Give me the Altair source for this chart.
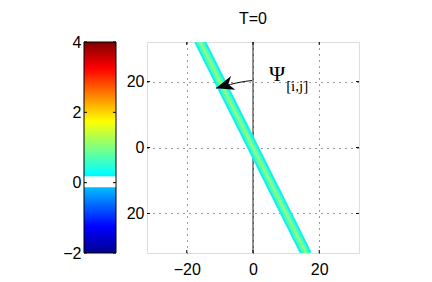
import altair as alt
import pandas as pd

# ---- data ----
cbar_domain = [-2, 4]
cbar_ticks = [-2, 0, 2, 4]
white_band = [-0.13, 0.18]

axis_domain = [-32, 32]
axis_ticks = [-20, 0, 20]

stripe_x = [-16.2, 16.2]
stripe_y = [32.5, -32.5]

arrow_x = [-0.3, -4.0, -11.2]
arrow_y = [20.3, 19.9, 18.0]
tip_x = [-11.2]
tip_y = [18.0]

label_main = "Ψ"
label_sub = "[i,j]"
title_text = "T=0"

# ---- styles ----
jet = alt.LinearGradient(
    gradient="linear",
    stops=[
        alt.GradientStop(color="#00008f", offset=0),
        alt.GradientStop(color="#0000ff", offset=0.125),
        alt.GradientStop(color="#00ffff", offset=0.375),
        alt.GradientStop(color="#ffff00", offset=0.625),
        alt.GradientStop(color="#ff0000", offset=0.875),
        alt.GradientStop(color="#800000", offset=1),
    ],
    x1=0, x2=0, y1=1, y2=0,
)
FONT = "Liberation Sans"
W, H = 212, 211
CB_L, CB_R = -63, -31

# ---- colorbar (independent y scale, drawn left of the plot) ----
cbs = alt.Scale(domain=cbar_domain, nice=False, zero=False)
cbax = alt.Axis(values=cbar_ticks, title=None, grid=False, ticks=False,
                domain=False, orient="left", offset=-CB_L, labelPadding=3,
                labelFontSize=16, labelFont=FONT, labelColor="black")
cb_df = pd.DataFrame({"lo": [cbar_domain[0]], "hi": [cbar_domain[1]]})
wb_df = pd.DataFrame({"lo": [white_band[0]], "hi": [white_band[1]]})
cbt_df = pd.DataFrame({"v": cbar_ticks})

cy = alt.Y("lo:Q", scale=cbs, axis=cbax)
cbar = alt.layer(
    alt.Chart(cb_df).mark_rect(color=jet).encode(
        y=cy, y2="hi:Q", x=alt.value(CB_L), x2=alt.value(CB_R)),
    alt.Chart(wb_df).mark_rect(color="white").encode(
        y=cy, y2="hi:Q", x=alt.value(CB_L), x2=alt.value(CB_R)),
    alt.Chart(cbt_df).mark_rule(color="black", strokeWidth=1).encode(
        y=alt.Y("v:Q", scale=cbs, axis=cbax), x=alt.value(CB_L), x2=alt.value(CB_L + 3)),
    alt.Chart(cbt_df).mark_rule(color="black", strokeWidth=1).encode(
        y=alt.Y("v:Q", scale=cbs, axis=cbax), x=alt.value(CB_R), x2=alt.value(CB_R - 3)),
    alt.Chart(cb_df).mark_rect(fillOpacity=0, stroke="black", strokeWidth=1).encode(
        y=cy, y2="hi:Q", x=alt.value(CB_L), x2=alt.value(CB_R)),
)

# ---- main plot ----
xs = alt.Scale(domain=axis_domain, nice=False, zero=False)
ys = alt.Scale(domain=axis_domain, nice=False, zero=False)
xax = alt.Axis(values=axis_ticks, title=None, grid=True, gridDash=[1, 5],
               gridColor="#333", gridOpacity=1, ticks=False, domain=False,
               labelPadding=8, labelFontSize=16, labelFont=FONT, labelColor="black")
yax = alt.Axis(values=axis_ticks, title=None, grid=True, gridDash=[1, 5],
               gridColor="#333", gridOpacity=1, ticks=False, domain=False,
               orient="left", labelPadding=3, labelFontSize=16, labelFont=FONT,
               labelColor="black", labelExpr="replace(datum.label, '−', '')")

zero_line = alt.Chart(pd.DataFrame({"x": [0]})).mark_rule(
    color="#222", strokeWidth=1).encode(x=alt.X("x:Q", scale=xs, axis=xax))

stripe_df = pd.DataFrame({"x": stripe_x, "y": stripe_y, "o": [0, 1]})
def stripe(width, color):
    return alt.Chart(stripe_df).mark_line(
        strokeWidth=width, color=color, clip=True, strokeCap="butt").encode(
        x=alt.X("x:Q", scale=xs, axis=xax),
        y=alt.Y("y:Q", scale=ys, axis=yax),
        order="o:O")

tk_df = pd.DataFrame({"v": axis_ticks})
def xtick(y0, y1):
    return alt.Chart(tk_df).mark_rule(color="black", strokeWidth=1).encode(
        x=alt.X("v:Q", scale=xs, axis=xax), y=alt.value(y0), y2=alt.value(y1))
def ytick(x0, x1):
    return alt.Chart(tk_df).mark_rule(color="black", strokeWidth=1).encode(
        y=alt.Y("v:Q", scale=ys, axis=yax), x=alt.value(x0), x2=alt.value(x1))

arrow_df = pd.DataFrame({"x": arrow_x, "y": arrow_y, "o": [0, 1, 2]})
arrow_line = alt.Chart(arrow_df).mark_line(
    color="black", strokeWidth=1, interpolate="basis").encode(
    x=alt.X("x:Q", scale=xs, axis=xax), y=alt.Y("y:Q", scale=ys, axis=yax), order="o:O")
tip_df = pd.DataFrame({"x": tip_x, "y": tip_y})
arrow_head = alt.Chart(tip_df).mark_point(
    shape="M0,0 L-1,-0.4 L-0.72,0 L-1,0.4 Z", filled=True, color="black",
    opacity=1, size=1300, angle=163).encode(
    x=alt.X("x:Q", scale=xs, axis=xax), y=alt.Y("y:Q", scale=ys, axis=yax))

txt_df = pd.DataFrame({"x": [4.8], "y": [20.2], "t": [label_main]})
sub_df = pd.DataFrame({"x": [10.0], "y": [17.2], "t": [label_sub]})
psi = alt.Chart(txt_df).mark_text(
    font="Liberation Serif", fontSize=22, align="left", baseline="alphabetic",
    color="black").encode(x=alt.X("x:Q", scale=xs, axis=xax),
                          y=alt.Y("y:Q", scale=ys, axis=yax), text="t:N")
sub = alt.Chart(sub_df).mark_text(
    font="Liberation Serif", fontSize=15, align="left", baseline="alphabetic",
    color="black").encode(x=alt.X("x:Q", scale=xs, axis=xax),
                          y=alt.Y("y:Q", scale=ys, axis=yax), text="t:N")

main = alt.layer(
    zero_line,
    stripe(11, "#10f0f0"),
    stripe(7, "#40ffc8"),
    stripe(3, "#88ff80"),
    xtick(H, H - 3), xtick(0, 3), ytick(0, 3), ytick(W, W - 3),
    arrow_line, arrow_head, psi, sub,
)

chart = alt.layer(cbar, main).resolve_scale(y="independent").properties(
    width=W, height=H,
    title=alt.TitleParams(title_text, font=FONT, fontSize=16, fontWeight="normal",
                          color="black", offset=7, frame="group"),
    padding={"left": 54, "top": 3, "right": 5, "bottom": 5},
).configure_view(stroke="black", strokeWidth=1).configure(background="white")

chart.save("out.html", embed_options={"renderer": "svg", "actions": False})
